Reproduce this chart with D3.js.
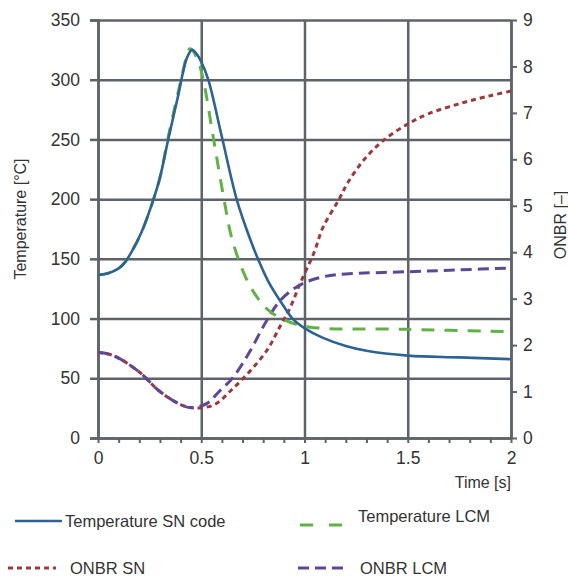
<!DOCTYPE html>
<html>
<head>
<meta charset="utf-8">
<script src="https://cdn.jsdelivr.net/npm/d3@7"></script>
<style>
  body { margin: 0; background: #fff; }
  svg text { font-family: "Liberation Sans", Arial, sans-serif; fill: #333; }
  .axis path, .axis line { stroke: #5d6368; }
  .grid line { stroke: #5d6368; stroke-width: 2.5; }
  .grid path { display: none; }
</style>
</head>
<body>
<div id="chart"></div>
<script>
// time [s]
var tempSNTime = [0, 0.05, 0.1, 0.13, 0.16, 0.21, 0.267, 0.3, 0.34, 0.39, 0.41, 0.43, 0.455, 0.48, 0.5, 0.534, 0.6, 0.673, 0.738, 0.777, 0.825, 0.893, 0.942, 1.0, 1.087, 1.2, 1.3, 1.5, 1.75, 2.0];
var tempSN     = [136.5, 138, 142, 147, 155, 172, 199, 218, 250, 288, 305, 318, 325, 321, 315, 300, 252, 199, 166, 149, 131, 112, 100, 92, 84, 77, 73, 69, 67.5, 66];

var tempLCMTime = [0, 0.05, 0.1, 0.13, 0.16, 0.21, 0.267, 0.3, 0.34, 0.39, 0.41, 0.43, 0.445, 0.465, 0.49, 0.51, 0.56, 0.61, 0.65, 0.714, 0.77, 0.825, 0.9, 1.02, 1.5, 2.0];
var tempLCM     = [136.5, 138, 142, 147, 155, 172, 199, 218, 252, 291, 306, 320, 326, 323, 313, 300, 250, 200, 166, 135, 118, 107, 99, 93, 91, 89];

var onbrSNTime = [0, 0.05, 0.1, 0.2, 0.3, 0.4, 0.46, 0.56, 0.65, 0.74, 0.82, 0.88, 0.93, 0.98, 1.045, 1.09, 1.165, 1.21, 1.29, 1.38, 1.5, 1.6, 1.76, 1.9, 2.0];
var onbrSN     = [1.84, 1.81, 1.72, 1.42, 1.0, 0.72, 0.65, 0.71, 1.05, 1.46, 1.9, 2.39, 2.8, 3.34, 3.98, 4.54, 5.12, 5.5, 6.0, 6.4, 6.76, 6.98, 7.21, 7.37, 7.47];

var onbrLCMTime = [0, 0.05, 0.1, 0.2, 0.3, 0.4, 0.45, 0.53, 0.58, 0.655, 0.74, 0.786, 0.82, 0.884, 0.98, 1.09, 1.2, 1.5, 1.75, 2.0];
var onbrLCM     = [1.84, 1.81, 1.72, 1.42, 1.0, 0.72, 0.65, 0.75, 0.97, 1.31, 1.9, 2.28, 2.55, 2.97, 3.3, 3.47, 3.53, 3.58, 3.62, 3.66];

var tempTicks = [0, 50, 100, 150, 200, 250, 300, 350];
var onbrTicks = [0, 1, 2, 3, 4, 5, 6, 7, 8, 9];
var timeTicks = [0, 0.5, 1, 1.5, 2];
var seriesNames = ["Temperature SN code", "Temperature LCM", "ONBR SN", "ONBR LCM"];

var width = 568, height = 579;
var margin = {top: 20, right: 57, bottom: 141, left: 98};
var graphWidth = width - margin.left - margin.right;
var graphHeight = height - margin.top - margin.bottom;

var svg = d3.select("#chart")
  .append("svg")
  .attr("width", width)
  .attr("height", height);

var g = svg.append("g")
  .attr("transform", "translate(" + margin.left + "," + margin.top + ")");

var x = d3.scaleLinear().domain([0, 2]).range([0, graphWidth]);
var yT = d3.scaleLinear().domain([0, 350]).range([graphHeight, 0]);
var yO = d3.scaleLinear().domain([0, 9]).range([graphHeight, 0]);

// grid
g.append("g")
  .attr("class", "grid")
  .call(d3.axisLeft(yT).tickValues(tempTicks).tickSize(-graphWidth).tickFormat(""));

g.append("g")
  .attr("class", "grid")
  .attr("transform", "translate(0," + graphHeight + ")")
  .call(d3.axisBottom(x).tickValues(timeTicks).tickSize(graphHeight).tickFormat(""))
  .selectAll("line")
  .attr("transform", "translate(0," + (-graphHeight) + ")");

// left axis
var left = g.append("g")
  .attr("class", "axis")
  .call(d3.axisLeft(yT).tickValues(tempTicks).tickSize(8).tickPadding(10));
left.select(".domain").attr("stroke-width", 2.5);
left.selectAll("line").attr("stroke-width", 2.5);
left.selectAll("text").style("font-size", "17.5px");

// right axis
var right = g.append("g")
  .attr("class", "axis")
  .attr("transform", "translate(" + graphWidth + ",0)")
  .call(d3.axisRight(yO).tickValues(onbrTicks).tickSize(6).tickPadding(6).tickSizeOuter(0));
right.select(".domain").attr("stroke-width", 2.5);
right.selectAll("line").attr("stroke-width", 2);
right.selectAll("text").style("font-size", "17.5px");

// bottom axis, minor ticks every 0.1
var bottom = g.append("g")
  .attr("class", "axis")
  .attr("transform", "translate(0," + graphHeight + ")")
  .call(d3.axisBottom(x)
    .tickValues(d3.range(0, 21).map(function(i) { return i / 10; }))
    .tickSize(5)
    .tickPadding(9)
    .tickSizeOuter(0)
    .tickFormat(function(d) {
      return timeTicks.indexOf(d) >= 0 ? d3.format("~g")(d) : "";
    }));
bottom.select(".domain").attr("stroke-width", 2.5);
bottom.selectAll("line").attr("stroke-width", 2);
bottom.selectAll("text").style("font-size", "17.5px");

// axis titles
g.append("text")
  .attr("transform", "rotate(-90)")
  .attr("x", -graphHeight / 2 + 10)
  .attr("y", -72)
  .style("text-anchor", "middle")
  .style("font-size", "16px")
  .text("Temperature [°C]");

g.append("text")
  .attr("transform", "rotate(-90)")
  .attr("x", -205)
  .attr("y", graphWidth + 55)
  .style("text-anchor", "middle")
  .style("font-size", "16px")
  .text("ONBR [–]");

g.append("text")
  .attr("x", graphWidth)
  .attr("y", graphHeight + 50)
  .style("text-anchor", "end")
  .style("font-size", "16px")
  .text("Time [s]");

// lines
var series = [
  { name: seriesNames[0], t: tempSNTime, v: tempSN, y: yT, color: "#2c6294", dash: null, w: 2.6 },
  { name: seriesNames[1], t: tempLCMTime, v: tempLCM, y: yT, color: "#62b146", dash: "13,10", w: 3 },
  { name: seriesNames[2], t: onbrSNTime, v: onbrSN, y: yO, color: "#9a3a3e", dash: "5,4", w: 3 },
  { name: seriesNames[3], t: onbrLCMTime, v: onbrLCM, y: yO, color: "#5d4893", dash: "11,6", w: 3 }
];

var plotOrder = [2, 3, 1, 0];
plotOrder.forEach(function(i) {
  var s = series[i];
  var pts = s.t.map(function(t, k) { return [t, s.v[k]]; });
  var line = d3.line()
    .x(function(d) { return x(d[0]); })
    .y(function(d) { return s.y(d[1]); })
    .curve(d3.curveCatmullRom.alpha(0.5));
  g.append("path")
    .datum(pts)
    .attr("fill", "none")
    .attr("stroke", s.color)
    .attr("stroke-width", s.w)
    .attr("stroke-dasharray", s.dash)
    .attr("d", line);
});

// legend
var legendPos = [
  { x1: 15, x2: 62, ly: 521, tx: 65, ty: 521 },
  { x1: 300, x2: 342, ly: 525, tx: 358, ty: 516 },
  { x1: 8, x2: 56, ly: 568, tx: 70, ty: 568 },
  { x1: 298, x2: 346, ly: 568, tx: 360, ty: 568 }
];

series.forEach(function(s, i) {
  var p = legendPos[i];
  svg.append("line")
    .attr("x1", p.x1).attr("x2", p.x2)
    .attr("y1", p.ly).attr("y2", p.ly)
    .attr("stroke", s.color)
    .attr("stroke-width", s.w)
    .attr("stroke-dasharray", i == 1 ? "13,16" : s.dash);
  svg.append("text")
    .attr("x", p.tx)
    .attr("y", p.ty)
    .attr("dy", "0.35em")
    .style("font-size", "16.5px")
    .text(s.name);
});
</script>
</body>
</html>
